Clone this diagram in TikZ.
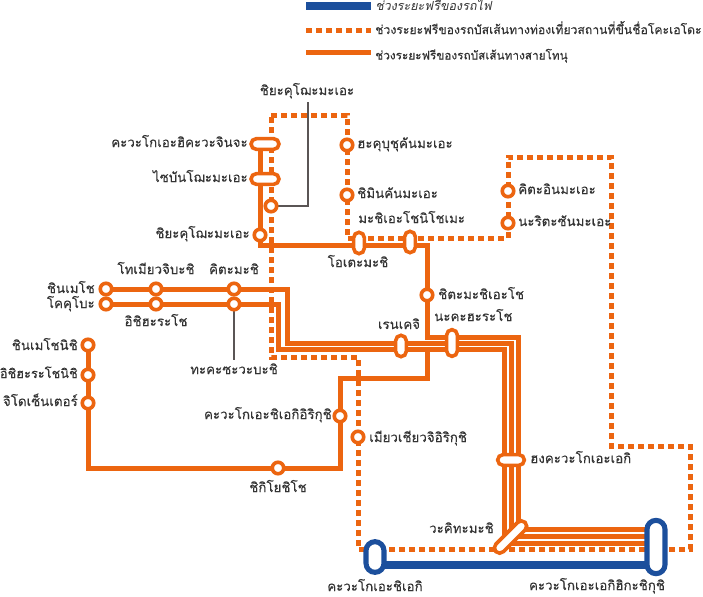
\documentclass[tikz,border=0pt]{standalone}
\usepackage{fontspec}
\usetikzlibrary{shapes.misc,shapes.geometric,backgrounds}
\newfontfamily\thaif[Script=Thai,FakeBold=0.25]{Loma}
\newfontfamily\thaislant[Script=Thai,FakeSlant=0.2]{Loma}
\definecolor{lineor}{HTML}{EC6510}
\definecolor{lineblue}{HTML}{1C4F9C}
\definecolor{lbltext}{HTML}{333333}
\definecolor{leader}{HTML}{5A5555}
\tikzset{
  lbl/.style={inner sep=0pt,text=lbltext,font=\thaif\fontsize{10pt}{12pt}\selectfont,text height=7pt,text depth=2.5pt},
  lblr/.style={lbl,anchor=east},
  lbll/.style={lbl,anchor=west},
  lblc/.style={lbl,anchor=center},
  stn/.style={circle,draw=lineor,fill=white,line width=2.7pt,minimum size=8.6pt,inner sep=0pt},
  pill/.style={rounded rectangle,draw=lineor,fill=white,line width=2.7pt,inner sep=0pt,minimum height=8pt},
  bluepill/.style={rounded rectangle,draw=lineblue,fill=white,line width=3.8pt,inner sep=0pt,minimum height=13.5pt,rotate=90},
  solidline/.style={draw=lineor,line width=3.75pt,line join=miter},
  dashline/.style={draw=lineor,line width=3.75pt,dash pattern=on 4.5pt off 3pt,line join=miter},
  blueline/.style={draw=lineblue,line width=6pt},
  leaderline/.style={draw=leader,line width=0.9pt},
}
\begin{document}
\begin{tikzpicture}[x=0.75pt,y=-0.75pt]
\useasboundingbox (0,0) rectangle (703,596);

% legend
\coordinate (k1a) at (306,6); \coordinate (k1b) at (371,6);
\coordinate (k2a) at (306,30); \coordinate (k2b) at (371,30);
\coordinate (k3a) at (306,52); \coordinate (k3b) at (371,52);
\draw[blueline] (k1a) -- (k1b);
\draw[dashline] (k2a) -- (k2b);
\draw[solidline] (k3a) -- (k3b);
\node[lbll,font=\thaislant\fontsize{9.4pt}{11pt}\selectfont] (t1) at (375,7) {ช่วงระยะฟรีของรถไฟ};
\node[lbll,font=\thaif\fontsize{9.15pt}{11pt}\selectfont] (t2) at (375,31) {ช่วงระยะฟรีของรถบัสเส้นทางท่องเที่ยวสถานที่ขึ้นชื่อโคะเอโดะ};
\node[lbll,font=\thaif\fontsize{8.85pt}{11pt}\selectfont] (t3) at (375,56.5) {ช่วงระยะฟรีของรถบัสเส้นทางสายโทนุ};

% stations
\node[stn] (shinmei) at (106,289) {};
\node[stn] (tomyo) at (156,289) {};
\node[stn] (kita) at (234,289) {};
\node[stn] (kokubo) at (106,304) {};
\node[stn] (ishihara) at (156,304) {};
\node[stn] (takasawa) at (234,304) {};
\node[stn] (shinmein) at (88,345) {};
\node[stn] (ishiharan) at (88,375) {};
\node[stn] (jido) at (88,403) {};
\node[stn] (shiki) at (278,468) {};
\node[stn] (kshi) at (340,416) {};
\node[stn] (myo) at (358,437) {};
\node[stn] (shiya) at (260,235) {};
\node[stn] (shiyad) at (271,206) {};
\node[stn] (haku) at (347,145) {};
\node[stn] (shimin) at (347,195) {};
\node[stn] (kitain) at (508,191) {};
\node[stn] (narita) at (508,223) {};
\node[stn] (shita) at (427,295) {};
\node[pill,minimum width=21pt] (hikawa) at (265,144) {};
\node[pill,minimum width=21pt] (saiban) at (265,179) {};
\node[pill,minimum width=16pt,rotate=90] (ote) at (359,243) {};
\node[pill,minimum width=16pt,rotate=90] (nichome) at (410,242) {};
\node[pill,minimum width=16pt,rotate=90] (renkeji) at (401,346) {};
\node[pill,minimum width=20pt,rotate=90] (naka) at (452,343) {};
\node[pill,minimum width=20pt] (hon) at (511,460) {};
\node[pill,minimum width=31pt,rotate=45] (waki) at (510.5,537) {};
\node[bluepill,minimum width=23pt] (kshie) at (375,557) {};
\node[bluepill,minimum width=40pt] (higa) at (656,547) {};

% corners
\coordinate (d1) at (271,115); \coordinate (d2) at (347,115);
\coordinate (d3) at (347,238); \coordinate (d4) at (508,238);
\coordinate (d5) at (508,157); \coordinate (d6) at (611,157);
\coordinate (d7) at (611,446); \coordinate (d8) at (690,446);
\coordinate (d9) at (690,549); \coordinate (d10) at (358,549);
\coordinate (d11) at (358,357); \coordinate (d12) at (271,357);
\coordinate (a1) at (287,289); \coordinate (a2) at (287,343);
\coordinate (a3) at (511,343); \coordinate (a4) at (511,536);
\coordinate (b1) at (278,304); \coordinate (b2) at (278,349);
\coordinate (b3) at (504,349); \coordinate (b4) at (504,543);
\coordinate (c1) at (260,245); \coordinate (c2) at (427,245);
\coordinate (c3) at (427,337); \coordinate (c4) at (518,337); \coordinate (c5) at (518,529);
\coordinate (e1) at (427,349); \coordinate (e2) at (427,378); \coordinate (e3) at (340,378);
\coordinate (e4) at (340,468); \coordinate (e5) at (88,468);
\coordinate (ax) at (645,536); \coordinate (bx) at (645,543); \coordinate (cx) at (645,529);
\coordinate (hik) at (260,144);
\coordinate (lead1) at (308,102); \coordinate (lead2) at (308,206);
\coordinate (lead3) at (234,360);

\begin{scope}[on background layer]
  \draw[dashline] (d1) -- (d2) -- (d3) -- (d4) -- (d5) -- (d6) -- (d7) -- (d8) -- (d9) -- (d10) -- (d11) -- (d12) -- cycle;
  \draw[solidline] (shinmei.center) -- (tomyo.center) -- (kita.center) -- (a1) -- (a2) -- (a3) -- (a4) -- (ax);
  \draw[solidline] (kokubo.center) -- (ishihara.center) -- (takasawa.center) -- (b1) -- (b2) -- (b3) -- (b4) -- (bx);
  \draw[solidline] (hik) -- (c1) -- (c2) -- (c3) -- (c4) -- (c5) -- (cx);
  \draw[solidline] (e1) -- (e2) -- (e3) -- (e4) -- (e5) -- (shinmein.center);
  \draw[blueline] (kshie.center |- 0,565) -- (higa.center |- 0,565);
  \draw[leaderline] (lead1) -- (lead2) -- (shiyad.center);
  \draw[leaderline] (takasawa.center) -- (lead3);
\end{scope}

% labels
\node[lblc] (l01) at (307,92) {ชิยะคุโฌะมะเอะ};
\node[lblr] (l02) at (248,144) {คะวะโกเอะฮิคะวะจินจะ};
\node[lblr] (l03) at (248,179) {ไซบันโฌะมะเอะ};
\node[lblr] (l04) at (250,235) {ชิยะคุโฌะมะเอะ};
\node[lbll] (l05) at (357,145) {ฮะคุบุชุคันมะเอะ};
\node[lbll] (l06) at (357,195) {ชิมินคันมะเอะ};
\node[lbll] (l07) at (358,220) {มะชิเอะโชนิโชเมะ};
\node[lblc] (l08) at (358,264) {โอเตะมะชิ};
\node[lbll] (l09) at (518,191) {คิตะอินมะเอะ};
\node[lbll] (l10) at (518,223) {นะริตะซันมะเอะ};
\node[lbll] (l11) at (438,296) {ชิตะมะชิเอะโช};
\node[lbll] (l12) at (434,318) {นะคะฮะระโช};
\node[lblc] (l13) at (399,326) {เรนเคจิ};
\node[lblc] (l14) at (156,271) {โทเมียวจิบะชิ};
\node[lblc] (l15) at (234,271) {คิตะมะชิ};
\node[lblr] (l16) at (95,290) {ชินเมโช};
\node[lblr] (l17) at (95,305) {โคคุโบะ};
\node[lblc] (l18) at (156,323) {อิชิฮะระโช};
\node[lblc] (l19) at (234,371) {ทะคะซะวะบะชิ};
\node[lblr] (l20) at (78,347) {ชินเมโชนิชิ};
\node[lblr,font=\thaif\fontsize{9.6pt}{12pt}\selectfont] (l21) at (78,375) {อิชิฮะระโชนิชิ};
\node[lblr] (l22) at (78,403) {จิโดเซ็นเตอร์};
\node[lblr] (l23) at (332,416) {คะวะโกเอะชิเอกิอิริกุชิ};
\node[lbll] (l24) at (369,439) {เมียวเชียวจิอิริกุชิ};
\node[lblc] (l25) at (278,489) {ชิกิโยชิโช};
\node[lbll] (l26) at (530,460) {ฮงคะวะโกเอะเอกิ};
\node[lblr] (l27) at (494,530) {วะคิทะมะชิ};
\node[lblc] (l28) at (375,588) {คะวะโกเอะชิเอกิ};
\node[lblc] (l29) at (597,587) {คะวะโกเอะเอกิฮิกะชิกุชิ};
\end{tikzpicture}
\end{document}
